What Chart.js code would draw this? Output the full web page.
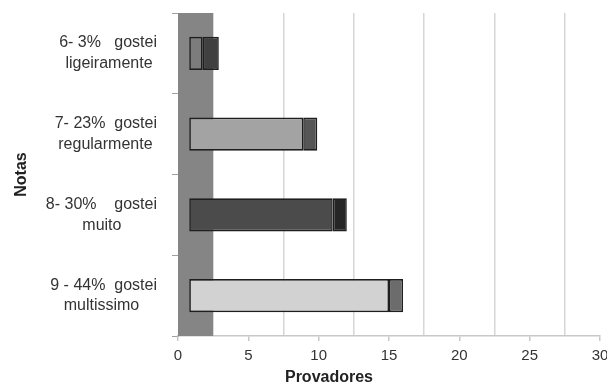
<!DOCTYPE html>
<html>
<head>
<meta charset="utf-8">
<script src="https://cdn.jsdelivr.net/npm/chart.js@4.4.0/dist/chart.umd.min.js"></script>
<style>
html,body{margin:0;padding:0;background:#fff;}
#wrap{width:607px;height:386px;}
</style>
</head>
<body>
<div id="wrap"><canvas id="c" width="607" height="386"></canvas></div>
<script>
// Categories (top to bottom): first line / second line
const labelLine1 = ["6- 3%   gostei", "7- 23%  gostei", "8- 30%    gostei", "9 - 44%  gostei"];
const labelLine2 = ["ligeiramente", "regularmente", "muito", "multissimo"];
// Bar segments (values on the Provadores axis)
const barStart   = [0.8, 0.8, 0.8, 0.8];
const splitValue = [1.75, 8.9, 11, 15];
const barEnd     = [2.9, 9.9, 12, 16];
// Shaded band on the value axis
const bandRange = [0, 2.5];
// Axis settings
const xMin = 0, xMax = 30, xStep = 5;
const xTitle = 'Provadores';
const yTitle = 'Notas';

const FONT = 'Liberation Sans, Arial, sans-serif';
const labelFontSize = 16;

// centre the second line under the first one (right-aligned block, lines centred in it)
const mctx = document.createElement('canvas').getContext('2d');
mctx.font = labelFontSize + 'px ' + FONT;
const categories = labelLine1.map((l1, i) => {
  let l2 = labelLine2[i];
  const w1 = mctx.measureText(l1).width;
  const w2 = mctx.measureText(l2).width;
  const sp = mctx.measureText('\u00A0').width;
  const n = Math.max(0, Math.round((w1 - w2) / 2 / sp));
  return [l1, l2 + '\u00A0'.repeat(n)];
});

const firstColors  = ['#7c7c7c', '#a3a3a3', '#4b4b4b', '#d2d2d2'];
const secondColors = ['#404040', '#555555', '#262626', '#6c6c6c'];

const bandPlugin = {
  id: 'band',
  beforeDatasetsDraw(chart) {
    const {ctx, chartArea, scales} = chart;
    const x0 = scales.x.getPixelForValue(bandRange[0]);
    const x1 = scales.x.getPixelForValue(bandRange[1]);
    ctx.save();
    ctx.fillStyle = '#858585';
    ctx.fillRect(x0, chartArea.top, x1 - x0, chartArea.bottom - chartArea.top);
    ctx.restore();
  }
};

new Chart(document.getElementById('c'), {
  type: 'bar',
  data: {
    labels: categories,
    datasets: [
      {
        label: 'A',
        data: categories.map((c, i) => [barStart[i], splitValue[i]]),
        backgroundColor: firstColors,
        borderColor: '#1e1e1e',
        borderWidth: 1.6,
        borderSkipped: false
      },
      {
        label: 'B',
        data: categories.map((c, i) => [splitValue[i], barEnd[i]]),
        backgroundColor: secondColors,
        borderColor: '#1e1e1e',
        borderWidth: 1.6,
        borderSkipped: false
      }
    ]
  },
  options: {
    indexAxis: 'y',
    responsive: false,
    animation: false,
    devicePixelRatio: 1,
    layout: { padding: { left: 0, right: 7, top: 13, bottom: 0 } },
    plugins: { legend: { display: false }, tooltip: { enabled: false } },
    datasets: { bar: { categoryPercentage: 1, barPercentage: 0.41 } },
    scales: {
      y: {
        stacked: true,
        afterFit(scale) { scale.width = 178; scale.paddingTop = 0; scale.paddingBottom = 0; },
        grid: { offset: true, drawOnChartArea: false, color: '#a0a0a0', tickLength: 6 },
        border: { display: true, color: '#a0a0a0' },
        ticks: {
          crossAlign: 'near',
          padding: 15,
          color: '#333333',
          font: { family: FONT, size: labelFontSize, lineHeight: 1.3 }
        },
        title: {
          display: true,
          text: yTitle,
          color: '#222222',
          font: { family: FONT, size: 16, weight: 'bold' },
          padding: { top: 12, bottom: 0 }
        }
      },
      x: {
        type: 'linear',
        stacked: false,
        min: xMin,
        max: xMax,
        position: 'bottom',
        afterFit(scale) { scale.height = 50; scale.paddingLeft = 0; scale.paddingRight = 0; },
        ticks: {
          stepSize: xStep,
          padding: 6,
          color: '#333333',
          font: { family: FONT, size: 15 }
        },
        grid: { drawOnChartArea: false, color: '#c8c8c8', tickLength: 5, lineWidth: 1.5 },
        border: { display: true, color: '#c8c8c8', width: 1.5 },
        title: {
          display: true,
          text: xTitle + '\u00A0'.repeat(27),
          color: '#222222',
          font: { family: FONT, size: 16, weight: 'bold', lineHeight: 1.0 },
          padding: { top: 0, bottom: 0 }
        }
      },
      x2: {
        type: 'linear',
        min: xMin,
        max: xMax,
        position: 'bottom',
        ticks: { display: false, stepSize: xStep },
        grid: { offset: true, drawTicks: false, color: '#d6d6d6', lineWidth: 1.5 },
        border: { display: false }
      }
    }
  },
  plugins: [bandPlugin]
});
</script>
</body>
</html>
